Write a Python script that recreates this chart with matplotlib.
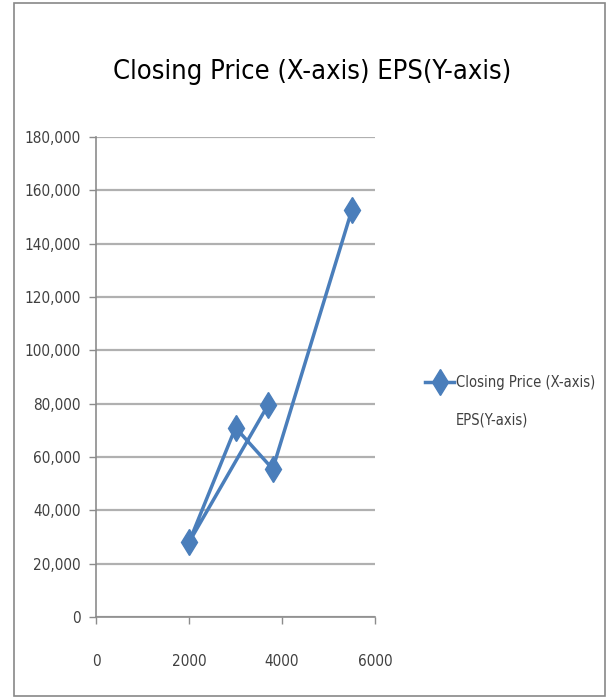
import matplotlib.pyplot as plt
from matplotlib.patches import Rectangle
from matplotlib.ticker import FuncFormatter

# === Datos ===
closing_price = [3700, 2000, 3000, 3800, 5500]
eps = [79500, 28000, 71000, 55500, 152500]
serie = "Closing Price (X-axis)"
serie_2 = "EPS(Y-axis)"
titulo = "Closing Price (X-axis) EPS(Y-axis)"

azul = "#4a7ebb"
gris_texto = "#404040"
plt.rcParams["font.family"] = ["DejaVu Sans"]
plt.rcParams["font.stretch"] = "condensed"

fig = plt.figure(figsize=(6.08, 6.97), dpi=100)

# marco exterior tipo Excel
fig.patches.append(Rectangle((14 / 608, 1 / 697), 591 / 608, 693 / 697,
                             transform=fig.transFigure, fill=False,
                             edgecolor="#888888", linewidth=1.2))

ax = fig.add_axes([96 / 608, 80 / 697, 279 / 608, 480 / 697])
ax.plot(closing_price, eps, color=azul, linewidth=2.5, marker="d",
        markersize=13, label=serie)

ax.set_xlim(0, 6000)
ax.set_ylim(0, 180000)
ax.set_xticks([0, 2000, 4000, 6000])
ax.set_yticks(range(0, 180001, 20000))
ax.yaxis.set_major_formatter(FuncFormatter(lambda v, p: f"{int(v):,}"))

ax.grid(axis="y", color="#b0b0b0", linewidth=1.6)
ax.set_axisbelow(True)
for lado in ["top", "right"]:
    ax.spines[lado].set_visible(False)
for lado in ["left", "bottom"]:
    ax.spines[lado].set_color("#8c8c8c")
    ax.spines[lado].set_linewidth(1.2)
ax.tick_params(axis="both", colors="#8c8c8c", labelcolor=gris_texto,
               labelsize=11, length=5, width=1)
ax.tick_params(axis="x", pad=22)
ax.tick_params(axis="y", pad=6)

fig.text(312 / 608, 1 - 72 / 697, titulo, ha="center", va="center",
         fontsize=19.5, color="black")

fig.legend(loc="center left", bbox_to_anchor=(412 / 608, 1 - 383 / 697),
           frameon=False, fontsize=10.5, handlelength=2.0, handletextpad=0.1,
           labelcolor=gris_texto)
fig.text(456 / 608, 1 - 420 / 697, serie_2, ha="left", va="center",
         fontsize=10.5, color=gris_texto)

plt.savefig("out.png", dpi=100)
